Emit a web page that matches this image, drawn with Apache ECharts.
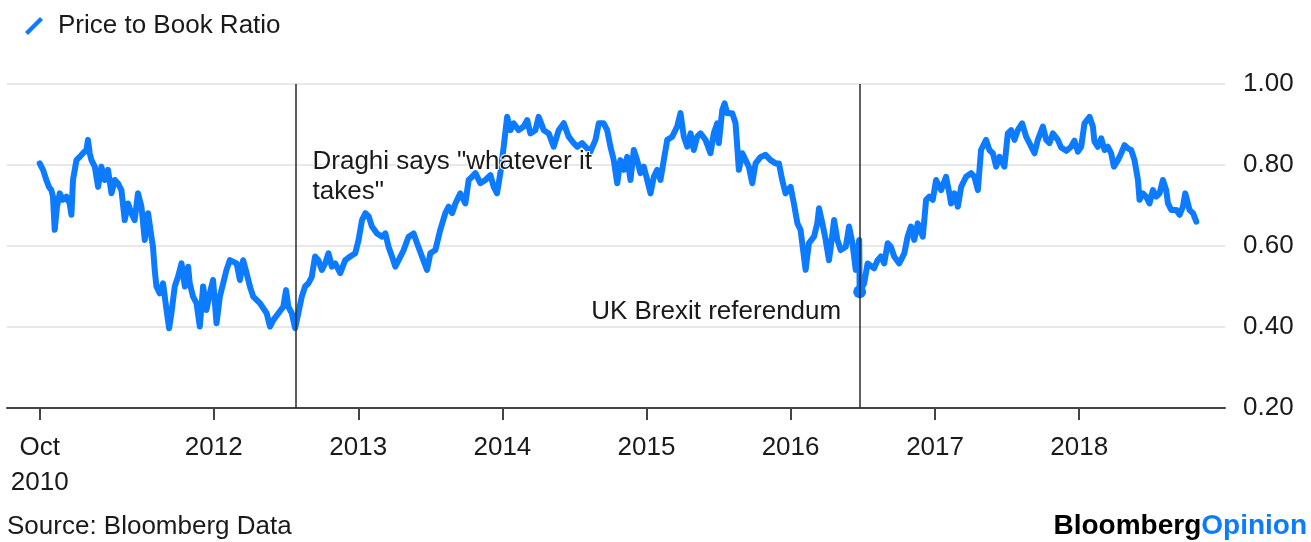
<!DOCTYPE html>
<html>
<head>
<meta charset="utf-8">
<script src="https://cdn.jsdelivr.net/npm/echarts@6/dist/echarts.min.js"></script>
<style>
  html, body { margin: 0; padding: 0; background: #ffffff; }
  #chart { width: 1311px; height: 542px; }
</style>
</head>
<body>
<div id="chart"></div>
<script>
// Observation dates as decimal years, and the matching price-to-book ratio
const dates = [
  2010.792, 2010.815, 2010.838, 2010.856, 2010.873, 2010.884, 2010.896, 2010.912, 2010.931, 2010.953,
  2010.977, 2011.000, 2011.012, 2011.023, 2011.047, 2011.069, 2011.092, 2011.116, 2011.127, 2011.139,
  2011.151, 2011.174, 2011.197, 2011.220, 2011.243, 2011.266, 2011.290, 2011.313, 2011.335, 2011.359,
  2011.382, 2011.405, 2011.428, 2011.451, 2011.474, 2011.498, 2011.521, 2011.544, 2011.567, 2011.578,
  2011.590, 2011.602, 2011.625, 2011.648, 2011.672, 2011.690, 2011.706, 2011.729, 2011.752, 2011.776,
  2011.799, 2011.822, 2011.833, 2011.856, 2011.880, 2011.903, 2011.926, 2011.949, 2011.972, 2011.995,
  2012.019, 2012.042, 2012.065, 2012.088, 2012.111, 2012.158, 2012.181, 2012.203, 2012.227, 2012.250,
  2012.273, 2012.319, 2012.366, 2012.389, 2012.412, 2012.447, 2012.481, 2012.500, 2012.516, 2012.540,
  2012.563, 2012.585, 2012.609, 2012.632, 2012.655, 2012.678, 2012.701, 2012.724, 2012.748, 2012.771,
  2012.794, 2012.817, 2012.840, 2012.875, 2012.910, 2012.944, 2012.979, 2013.002, 2013.026, 2013.049,
  2013.072, 2013.095, 2013.130, 2013.165, 2013.188, 2013.210, 2013.234, 2013.257, 2013.280, 2013.315,
  2013.349, 2013.384, 2013.408, 2013.442, 2013.477, 2013.500, 2013.535, 2013.569, 2013.604, 2013.627,
  2013.651, 2013.674, 2013.708, 2013.743, 2013.766, 2013.790, 2013.813, 2013.847, 2013.882, 2013.917,
  2013.940, 2013.963, 2013.986, 2014.009, 2014.033, 2014.056, 2014.078, 2014.113, 2014.148, 2014.172,
  2014.194, 2014.229, 2014.252, 2014.287, 2014.322, 2014.356, 2014.391, 2014.426, 2014.460, 2014.495,
  2014.519, 2014.553, 2014.576, 2014.611, 2014.646, 2014.669, 2014.703, 2014.727, 2014.750, 2014.773,
  2014.797, 2014.819, 2014.842, 2014.866, 2014.889, 2014.912, 2014.935, 2014.958, 2014.981, 2015.005,
  2015.028, 2015.051, 2015.074, 2015.097, 2015.120, 2015.144, 2015.179, 2015.213, 2015.236, 2015.259,
  2015.283, 2015.306, 2015.328, 2015.352, 2015.375, 2015.410, 2015.444, 2015.467, 2015.491, 2015.502,
  2015.526, 2015.542, 2015.560, 2015.595, 2015.618, 2015.630, 2015.641, 2015.665, 2015.688, 2015.710,
  2015.734, 2015.757, 2015.792, 2015.826, 2015.861, 2015.896, 2015.919, 2015.942, 2015.965, 2016.000,
  2016.023, 2016.047, 2016.069, 2016.104, 2016.127, 2016.162, 2016.185, 2016.197, 2016.220, 2016.243,
  2016.266, 2016.290, 2016.301, 2016.324, 2016.347, 2016.382, 2016.405, 2016.428, 2016.451, 2016.475,
  2016.478, 2016.509, 2016.533, 2016.578, 2016.602, 2016.625, 2016.648, 2016.672, 2016.694, 2016.717,
  2016.752, 2016.787, 2016.810, 2016.833, 2016.856, 2016.880, 2016.915, 2016.938, 2016.960, 2016.984,
  2017.007, 2017.042, 2017.076, 2017.099, 2017.111, 2017.134, 2017.158, 2017.181, 2017.215, 2017.250,
  2017.273, 2017.297, 2017.319, 2017.354, 2017.377, 2017.401, 2017.424, 2017.447, 2017.481, 2017.505,
  2017.528, 2017.551, 2017.574, 2017.604, 2017.632, 2017.655, 2017.690, 2017.713, 2017.748, 2017.771,
  2017.794, 2017.817, 2017.852, 2017.875, 2017.910, 2017.944, 2017.967, 2017.991, 2018.014, 2018.037,
  2018.072, 2018.095, 2018.106, 2018.130, 2018.153, 2018.176, 2018.199, 2018.222, 2018.241, 2018.269,
  2018.292, 2018.315, 2018.338, 2018.361, 2018.384, 2018.408, 2018.419, 2018.442, 2018.465, 2018.488,
  2018.512, 2018.535, 2018.558, 2018.581, 2018.604, 2018.616, 2018.639, 2018.674, 2018.697, 2018.720,
  2018.736, 2018.755, 2018.766, 2018.790, 2018.813
];

const ratio = [
  0.804, 0.788, 0.763, 0.746, 0.738, 0.722, 0.640, 0.697, 0.730, 0.714,
  0.722, 0.705, 0.677, 0.763, 0.812, 0.820, 0.829, 0.837, 0.862, 0.829,
  0.812, 0.796, 0.746, 0.796, 0.763, 0.788, 0.730, 0.763, 0.755, 0.738,
  0.664, 0.705, 0.681, 0.664, 0.730, 0.697, 0.615, 0.681, 0.623, 0.598,
  0.541, 0.500, 0.483, 0.508, 0.442, 0.397, 0.434, 0.500, 0.524, 0.557,
  0.500, 0.549, 0.508, 0.475, 0.459, 0.401, 0.500, 0.442, 0.483, 0.516,
  0.409, 0.475, 0.508, 0.541, 0.565, 0.557, 0.516, 0.565, 0.533, 0.500,
  0.475, 0.459, 0.434, 0.401, 0.417, 0.434, 0.450, 0.491, 0.450, 0.434,
  0.397, 0.434, 0.475, 0.500, 0.508, 0.524, 0.574, 0.565, 0.541, 0.557,
  0.582, 0.549, 0.557, 0.533, 0.565, 0.574, 0.582, 0.615, 0.664, 0.681,
  0.673, 0.648, 0.631, 0.623, 0.631, 0.598, 0.574, 0.549, 0.565, 0.590,
  0.623, 0.631, 0.607, 0.574, 0.541, 0.582, 0.590, 0.640, 0.681, 0.697,
  0.681, 0.705, 0.730, 0.705, 0.763, 0.771, 0.780, 0.755, 0.763, 0.775,
  0.746, 0.730, 0.780, 0.845, 0.919, 0.886, 0.903, 0.886, 0.895, 0.911,
  0.878, 0.886, 0.919, 0.886, 0.878, 0.845, 0.886, 0.903, 0.870, 0.854,
  0.845, 0.854, 0.845, 0.833, 0.862, 0.903, 0.903, 0.886, 0.845, 0.812,
  0.755, 0.812, 0.788, 0.820, 0.763, 0.837, 0.812, 0.780, 0.796, 0.763,
  0.730, 0.771, 0.788, 0.763, 0.812, 0.862, 0.870, 0.895, 0.928, 0.870,
  0.845, 0.878, 0.837, 0.870, 0.878, 0.862, 0.829, 0.878, 0.903, 0.854,
  0.936, 0.952, 0.928, 0.928, 0.903, 0.845, 0.788, 0.829, 0.812, 0.796,
  0.755, 0.804, 0.820, 0.825, 0.812, 0.804, 0.804, 0.763, 0.730, 0.746,
  0.705, 0.656, 0.640, 0.541, 0.607, 0.623, 0.656, 0.693, 0.656, 0.615,
  0.565, 0.631, 0.664, 0.615, 0.590, 0.598, 0.648, 0.607, 0.541, 0.615,
  0.487, 0.508, 0.557, 0.545, 0.565, 0.574, 0.557, 0.607, 0.598, 0.574,
  0.557, 0.582, 0.623, 0.648, 0.615, 0.656, 0.623, 0.714, 0.722, 0.714,
  0.763, 0.738, 0.771, 0.730, 0.705, 0.730, 0.697, 0.746, 0.771, 0.780,
  0.771, 0.738, 0.837, 0.862, 0.837, 0.829, 0.796, 0.820, 0.796, 0.878,
  0.886, 0.862, 0.886, 0.903, 0.870, 0.854, 0.829, 0.862, 0.895, 0.862,
  0.854, 0.878, 0.862, 0.843, 0.835, 0.845, 0.860, 0.833, 0.845, 0.903,
  0.919, 0.895, 0.858, 0.845, 0.866, 0.837, 0.845, 0.829, 0.796, 0.812,
  0.829, 0.849, 0.841, 0.837, 0.812, 0.763, 0.714, 0.730, 0.722, 0.705,
  0.738, 0.722, 0.730, 0.763, 0.738, 0.705, 0.689, 0.689, 0.677, 0.697,
  0.730, 0.705, 0.689, 0.681, 0.660
];

// Axis ticks
const yTicks = [0.20, 0.40, 0.60, 0.80, 1.00];
const xTickYears = [2012, 2013, 2014, 2015, 2016, 2017, 2018];
const monthNames = ['Jan','Feb','Mar','Apr','May','Jun','Jul','Aug','Sep','Oct','Nov','Dec'];

// Annotated events
const eventDates = ['2012-07-26', '2016-06-24'];
const eventLabels = ['Draghi says "whatever it\ntakes"', 'UK Brexit referendum'];

const seriesName = 'Price to Book Ratio';
const sourceText = 'Source: Bloomberg Data';

const BLUE = '#0c7bff';
const INK = '#1a1a1a';
const FONT = '"Liberation Sans", Arial, Helvetica, sans-serif';

// decimal year -> UTC timestamp
function yearToTime(y) {
  const Y = Math.floor(y);
  const a = Date.UTC(Y, 0, 1), b = Date.UTC(Y + 1, 0, 1);
  return a + (y - Y) * (b - a);
}
function isoToTime(s) {
  const p = s.split('-').map(Number);
  return Date.UTC(p[0], p[1] - 1, p[2]);
}

const points = dates.map((d, i) => [yearToTime(d), ratio[i]]);
const startTime = points[0][0];
const tickTimes = [startTime].concat(xTickYears.map(y => Date.UTC(y, 0, 1)));
const eventTimes = eventDates.map(isoToTime);

// value of the series on the day closest to a given time
function valueAt(t) {
  let best = points[0];
  points.forEach(p => { if (Math.abs(p[0] - t) < Math.abs(best[0] - t)) best = p; });
  return best[1];
}

const annotationText = {
  fontSize: 26,
  color: INK,
  fontFamily: FONT,
  opacity: 1,
  textBorderColor: '#ffffff',
  textBorderWidth: 2
};

const chart = echarts.init(document.getElementById('chart'), null, { renderer: 'canvas' });

chart.setOption({
  animation: false,
  backgroundColor: '#ffffff',
  textStyle: { fontFamily: FONT },
  legend: {
    left: 20,
    top: 8,
    itemWidth: 18,
    itemHeight: 18,
    icon: 'path://M3,18 L0,15 L15,0 L18,3 Z',
    textStyle: { fontSize: 26, color: INK, fontFamily: FONT, padding: [0, 0, 0, 10] },
    data: [seriesName]
  },
  grid: {
    left: 7,
    right: 86,
    top: 84,
    bottom: 134,
    containLabel: false,
    outerBoundsMode: 'none'
  },
  xAxis: {
    // time values carried as UTC timestamps on a numeric axis
    type: 'value',
    min: yearToTime(2010.565),
    max: yearToTime(2019.012),
    axisLine: { show: true, lineStyle: { color: '#444444', width: 2 } },
    axisTick: {
      show: true,
      customValues: tickTimes,
      length: 12,
      lineStyle: { color: '#444444', width: 2 }
    },
    axisLabel: {
      customValues: tickTimes,
      fontSize: 26,
      color: INK,
      fontFamily: FONT,
      margin: 22,
      lineHeight: 35,
      formatter: function (val) {
        const d = new Date(val);
        if (Math.abs(val - startTime) < 1000) {
          return monthNames[d.getUTCMonth()] + '\n' + d.getUTCFullYear();
        }
        return String(d.getUTCFullYear());
      }
    },
    splitLine: { show: false }
  },
  yAxis: {
    type: 'value',
    position: 'right',
    min: 0.2,
    max: 1.0,
    interval: 0.2,
    axisLine: { show: false },
    axisTick: { show: false },
    axisLabel: {
      fontSize: 26,
      color: INK,
      fontFamily: FONT,
      margin: 18,
      formatter: v => v.toFixed(2)
    },
    splitLine: { show: true, lineStyle: { color: '#e8e8e8', width: 2 } }
  },
  series: [
    {
      name: seriesName,
      type: 'line',
      data: points,
      showSymbol: false,
      symbol: 'none',
      color: BLUE,
      lineStyle: { color: BLUE, width: 6, cap: 'round', join: 'round' },
      emphasis: { disabled: true },
      z: 2
    },
    {
      name: 'events',
      type: 'scatter',
      z: 4,
      silent: true,
      itemStyle: { opacity: 1 },
      emphasis: { disabled: true },
      data: [
        {
          value: [eventTimes[0], 0.770],
          symbolSize: 0,
          label: Object.assign({
            show: true,
            formatter: eventLabels[0],
            position: 'right',
            distance: 17,
            align: 'left',
            verticalAlign: 'middle',
            lineHeight: 30
          }, annotationText)
        },
        {
          value: [eventTimes[1], valueAt(eventTimes[1])],
          symbol: 'circle',
          symbolSize: 13,
          itemStyle: { color: BLUE, opacity: 1 },
          label: Object.assign({
            show: true,
            formatter: eventLabels[1],
            position: 'left',
            distance: 12,
            offset: [0, 20],
            align: 'right',
            verticalAlign: 'middle'
          }, annotationText)
        }
      ],
      markLine: {
        silent: true,
        symbol: ['none', 'none'],
        label: { show: false },
        emphasis: { disabled: true },
        lineStyle: { color: '#2a2a2a', width: 1.5, type: 'solid', opacity: 1 },
        data: eventTimes.map(t => ({ xAxis: t }))
      }
    }
  ],
  graphic: [
    {
      type: 'text',
      left: 7,
      top: 514,
      style: { text: sourceText, font: '26px ' + FONT, fill: INK }
    },
    {
      type: 'text',
      right: 4,
      top: 512,
      style: {
        text: '{a|Bloomberg}{b|Opinion}',
        rich: {
          a: { font: 'bold 28px ' + FONT, fill: '#000000' },
          b: { font: 'bold 28px ' + FONT, fill: BLUE }
        }
      }
    }
  ]
});
</script>
</body>
</html>
